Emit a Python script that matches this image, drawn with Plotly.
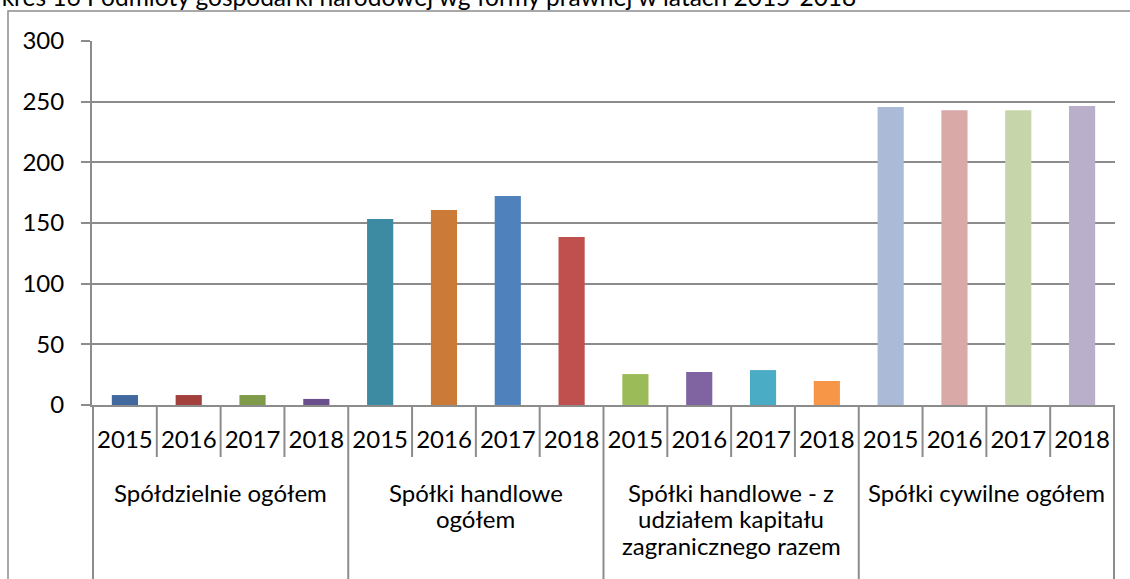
import plotly.graph_objects as go

groups = ["Spółdzielnie ogółem", "Spółki handlowe<br>ogółem",
          "Spółki handlowe - z<br>udziałem kapitału<br>zagranicznego razem",
          "Spółki cywilne ogółem"]
years = ["2015", "2016", "2017", "2018"]
values = [
    [8.2, 8.2, 8.2, 5.0],
    [153.3, 160.7, 172.3, 138.5],
    [25.5, 27.2, 28.8, 19.8],
    [245.6, 243.0, 243.0, 246.4],
]
colors = [
    ["#41699F", "#A2403D", "#7F9A48", "#6A4F8C"],
    ["#3C8BA2", "#CC7A38", "#4F81BD", "#C0504D"],
    ["#9BBB59", "#8064A2", "#4BACC6", "#F79646"],
    ["#AABAD7", "#D9A9A8", "#C7D6AA", "#B9AFCB"],
]
title = "Wykres 16 Podmioty gospodarki narodowej wg formy prawnej w latach 2015-2018"

FONT = "Lato"
FS = 24
GRAY = "#8C8C8C"
W, H = 1130, 579
L, R, T, B = 92, 15, 41, 174
pw, ph = W - L - R, H - T - B

def py(p):  # pixel row -> paper y
    return (T + ph - p) / ph

def px(p):  # pixel column -> paper x
    return (p - L) / pw

cats, xs_text, ys, cs = [], [], [], []
for g, grp in enumerate(groups):
    for i, yr in enumerate(years):
        cats.append(f"{g}-{yr}")
        xs_text.append(yr)
        ys.append(values[g][i])
        cs.append(colors[g][i])

fig = go.Figure(go.Bar(x=cats, y=ys, marker=dict(color=cs, line=dict(width=0)),
                       width=0.41))

shapes = []
n = len(cats)
for k in range(n + 1):
    is_group = (k % len(years) == 0)
    shapes.append(dict(type="line", xref="x", yref="paper",
                       x0=k - 0.5, x1=k - 0.5, y0=0,
                       y1=py(H + 5) if is_group else py(457),
                       line=dict(color=GRAY, width=2)))
# chart area border
shapes.append(dict(type="rect", xref="paper", yref="paper",
                   x0=px(8), x1=px(W + 10), y0=py(11), y1=py(H + 10),
                   line=dict(color=GRAY, width=1.5), fillcolor="rgba(0,0,0,0)",
                   layer="below"))

annotations = []
for g, grp in enumerate(groups):
    for j, line in enumerate(grp.split("<br>")):
        annotations.append(dict(xref="x", yref="paper",
                                x=g * len(years) + (len(years) - 1) / 2,
                                y=py(492 + 26.7 * j),
                                yanchor="middle", xanchor="center", showarrow=False,
                                text=line, font=dict(family=FONT, size=FS, color="#000")))
annotations.append(dict(xref="paper", yref="paper", x=px(-38),
                        y=py(-3), xanchor="left", yanchor="middle",
                        showarrow=False, text=title,
                        font=dict(family=FONT, size=24.5, color="#000")))

fig.update_layout(
    width=W, height=H, margin=dict(l=L, r=R, t=T, b=B),
    paper_bgcolor="white", plot_bgcolor="white",
    showlegend=False,
    font=dict(family=FONT, size=FS, color="#000"),
    shapes=shapes, annotations=annotations,
    xaxis=dict(type="category", tickvals=cats, ticktext=xs_text, ticks="",
               showline=True, linecolor=GRAY, linewidth=2, showgrid=False,
               tickfont=dict(family=FONT, size=FS, color="#000"),
               ticklabelstandoff=12, fixedrange=True),
    yaxis=dict(range=[0, 300], dtick=50, tick0=0, showgrid=True, gridcolor=GRAY,
               gridwidth=2, showline=True, linecolor=GRAY, linewidth=2,
               ticks="outside", ticklen=9, tickcolor=GRAY, tickwidth=2,
               ticklabelstandoff=12, zeroline=False,
               tickfont=dict(family=FONT, size=FS, color="#000")),
)
fig.write_html("out.html", config={"displayModeBar": False},
               post_script="document.body.style.margin='0';document.body.style.overflow='hidden';")
